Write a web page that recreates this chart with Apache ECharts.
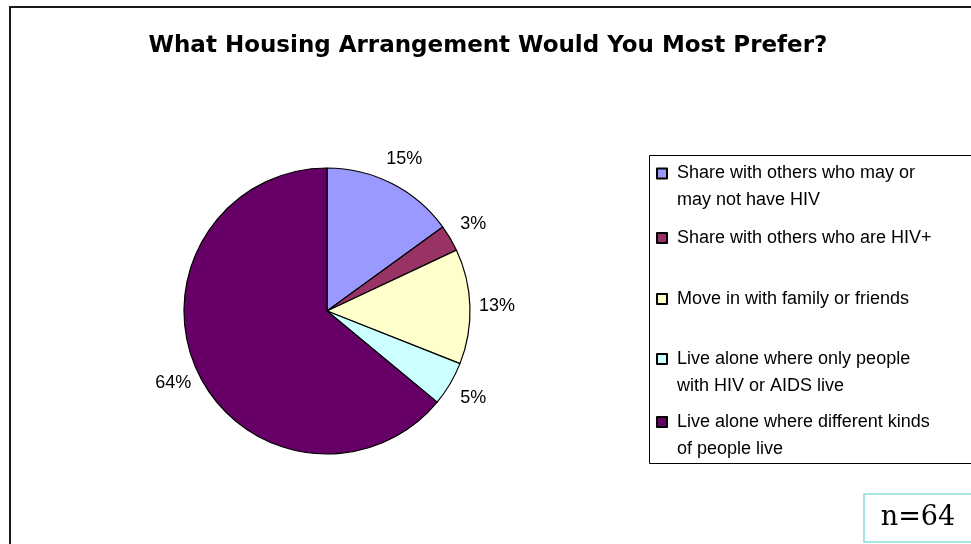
<!DOCTYPE html>
<html>
<head>
<meta charset="utf-8">
<title>Housing preference</title>
<script src="https://cdn.jsdelivr.net/npm/echarts@6/dist/echarts.min.js"></script>
<style>
  html, body { margin: 0; padding: 0; background: #ffffff; }
  #chart { width: 971px; height: 544px; }
</style>
</head>
<body>
<div id="chart"></div>
<script>
// Survey answers: preferred housing arrangement (percent of respondents)
const categories = [
  'Share with others who may or may not have HIV',
  'Share with others who are HIV+',
  'Move in with family or friends',
  'Live alone where only people with HIV or AIDS live',
  'Live alone where different kinds of people live'
];
const shares = [15, 3, 13, 5, 64];
const legendLines = [
  'Share with others who may or\nmay not have HIV',
  'Share with others who are HIV+',
  'Move in with family or friends',
  'Live alone where only people\nwith HIV or AIDS live',
  'Live alone where different kinds\nof people live'
];
const sampleNote = 'n=64';

const palette = ['#9999FF', '#993366', '#FFFFCC', '#CCFFFF', '#660066'];

// vertical position (icon centre) of each legend entry
const legendCentres = [173.5, 238, 299, 359, 422];
const LINE_H = 27;

const chart = echarts.init(document.getElementById('chart'), null, { renderer: 'canvas' });

// Legend text is centred on its icon; for a two-line entry an empty leading
// line keeps the first line level with the swatch.
const legends = categories.map((name, i) => {
  const lines = legendLines[i].split('\n');
  const shown = lines.length > 1 ? '\n' + legendLines[i] : legendLines[i];
  const boxH = (lines.length > 1 ? lines.length + 1 : 1) * LINE_H;
  return {
    data: [name],
    orient: 'vertical',
    left: 656,
    top: legendCentres[i] - boxH / 2,
    padding: 0,
    itemWidth: 10,
    itemHeight: 10,
    icon: 'rect',
    selectedMode: false,
    formatter: () => shown,
    textStyle: {
      fontFamily: 'Liberation Sans, Arial, sans-serif',
      fontSize: 18,
      color: '#000',
      lineHeight: LINE_H,
      padding: [0, 0, 0, 5]
    }
  };
});

chart.setOption({
  animation: false,
  backgroundColor: '#ffffff',
  title: {
    text: 'What Housing Arrangement Would You Most Prefer?',
    left: 488,
    top: 46,
    textAlign: 'center',
    textVerticalAlign: 'middle',
    padding: 0,
    textStyle: {
      fontFamily: 'DejaVu Sans, sans-serif',
      fontWeight: 'bold',
      fontSize: 23,
      color: '#000'
    }
  },
  legend: legends,
  graphic: [
    {
      type: 'rect',
      shape: { x: 10, y: 7, width: 1000, height: 600 },
      style: { fill: 'none', stroke: '#1a1a1a', lineWidth: 2 },
      silent: true
    },
    {
      type: 'rect',
      shape: { x: 649.5, y: 155.5, width: 400, height: 308 },
      style: { fill: 'none', stroke: '#000', lineWidth: 1 },
      silent: true
    },
    {
      type: 'rect',
      shape: { x: 864, y: 494, width: 140, height: 48 },
      style: { fill: '#fff', stroke: '#a8e4e4', lineWidth: 2 },
      silent: true
    },
    {
      type: 'text',
      x: 918,
      y: 518,
      style: {
        text: sampleNote,
        fontFamily: 'DejaVu Serif, serif',
        fontSize: 27,
        fill: '#000',
        align: 'center',
        verticalAlign: 'middle'
      },
      silent: true
    }
  ],
  series: [
    {
      type: 'pie',
      center: [327, 311],
      radius: 143,
      startAngle: 90,
      clockwise: true,
      avoidLabelOverlap: false,
      silent: true,
      data: categories.map((name, i) => ({
        name,
        value: shares[i],
        itemStyle: { color: palette[i] }
      })),
      itemStyle: { borderColor: '#000', borderWidth: 1.2 },
      label: {
        show: true,
        position: 'outside',
        formatter: '{c}%',
        fontFamily: 'Liberation Sans, Arial, sans-serif',
        fontSize: 18,
        color: '#000',
        distanceToLabelLine: 0
      },
      labelLine: { show: false, length: 27, length2: 0 },
      labelLayout: { align: 'center', verticalAlign: 'middle' },
      emphasis: { disabled: true }
    }
  ]
});
</script>
</body>
</html>
